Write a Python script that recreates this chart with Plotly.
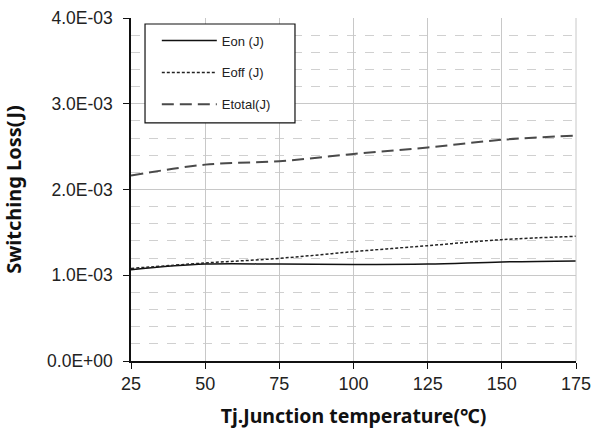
import plotly.graph_objects as go

tj = [25, 50, 75, 100, 125, 150, 175]
eon = [1.065e-3, 1.13e-3, 1.13e-3, 1.125e-3, 1.13e-3, 1.155e-3, 1.167e-3]
eoff = [1.08e-3, 1.143e-3, 1.197e-3, 1.275e-3, 1.345e-3, 1.415e-3, 1.454e-3]
etotal = [2.162e-3, 2.29e-3, 2.33e-3, 2.415e-3, 2.49e-3, 2.58e-3, 2.63e-3]

y_ticks = [0, 1e-3, 2e-3, 3e-3, 4e-3]
y_tick_labels = ["0.0E+00", "1.0E-03", "2.0E-03", "3.0E-03", "4.0E-03"]
x_ticks = [25, 50, 75, 100, 125, 150, 175]

fig = go.Figure()
fig.add_trace(go.Scatter(x=tj, y=eon, name="Eon (J)", mode="lines", legendgroup="a",
                         line=dict(color="#111111", width=1.5, shape="spline")))
fig.add_trace(go.Scatter(x=tj, y=eoff, name="Eoff (J)", mode="lines", legendgroup="b",
                         line=dict(color="#222222", width=1.5, dash="3px,2px", shape="spline")))
fig.add_trace(go.Scatter(x=tj, y=etotal, name="Etotal(J)", mode="lines", legendgroup="c",
                         line=dict(color="#4a4a4a", width=2, dash="12px,6px", shape="spline")))

fig.update_layout(
    width=593, height=437,
    margin=dict(l=131, r=17, t=18, b=76, autoexpand=False),
    paper_bgcolor="white", plot_bgcolor="white",
    font=dict(family="Liberation Sans, Arial", color="#222222"),
    showlegend=True,
    legend=dict(x=0.058, y=0.978, xanchor="left", yanchor="top",
                borderwidth=0, bgcolor="rgba(0,0,0,0)",
                font=dict(size=13, family="Liberation Sans, Arial"),
                tracegroupgap=12, itemwidth=55),
)
fig.update_xaxes(
    range=[25, 175], tickvals=x_ticks, ticks="outside", ticklen=6, tickcolor="#111111",
    showline=True, linecolor="#111111", linewidth=1.5, automargin=False,
    showgrid=True, gridcolor="#c8c8c8", gridwidth=1,
    tickfont=dict(size=18, family="Liberation Sans, Arial"),
    title=dict(text="Tj.Junction temperature(℃)", standoff=16,
               font=dict(size=19.5, family="Noto Sans, Noto Sans CJK SC", weight="bold", color="#111111")),
    zeroline=False,
)
fig.update_yaxes(
    range=[0, 4e-3], tickvals=y_ticks, ticktext=y_tick_labels, ticks="outside", ticklen=6,
    tickcolor="#111111", automargin=False, ticklabelstandoff=7,
    showline=True, linecolor="#111111", linewidth=1.5,
    showgrid=True, gridcolor="#c8c8c8", gridwidth=1.2,
    minor=dict(dtick=0.2e-3, showgrid=True, gridcolor="#d0d0d0", griddash="dash", gridwidth=1),
    tickfont=dict(size=17.5, family="Liberation Sans, Arial"),
    title=dict(text="Switching Loss(J)", standoff=30,
               font=dict(size=20, family="Noto Sans", weight="bold", color="#111111")),
    zeroline=False,
)
fig.add_shape(type="line", xref="paper", yref="paper", x0=1, x1=1, y0=0, y1=1,
              line=dict(color="#c8c8c8", width=1))
# legend frame
fig.add_shape(type="rect", xref="paper", yref="paper", x0=0.0315, x1=0.3685, y0=0.694, y1=0.9825,
              line=dict(color="#111111", width=1.2), fillcolor="white", layer="above")

fig.write_html("out.html", post_script="document.body.style.margin='0';",
               config={"displayModeBar": False})
